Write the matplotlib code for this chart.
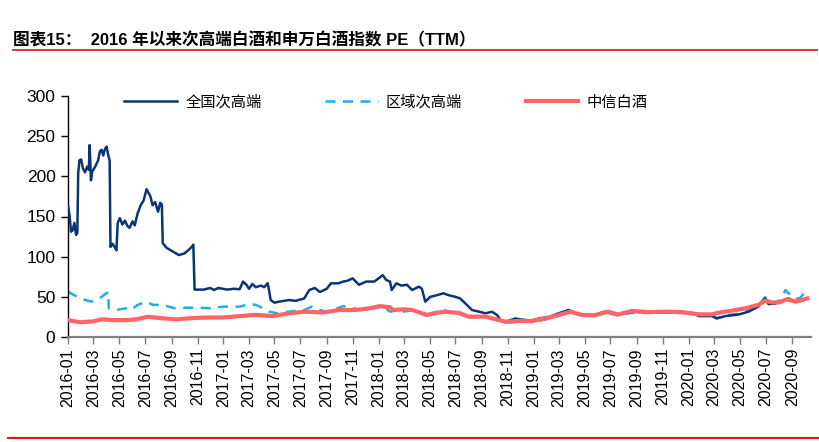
import matplotlib
matplotlib.use("Agg")
import matplotlib.pyplot as plt
import matplotlib.dates as mdates
import pandas as pd

plt.rcParams['font.family'] = ['Liberation Sans', 'Noto Sans CJK SC', 'DejaVu Sans']

title_text = "图表15：  2016 年以来次高端白酒和申万白酒指数 PE（TTM）"
series_names = ["全国次高端", "区域次高端", "中信白酒"]

national_dates = [
    "2016-01-01", "2016-01-05", "2016-01-08", "2016-01-12", "2016-01-16", "2016-01-20", "2016-01-23",
    "2016-01-25", "2016-01-28", "2016-02-01", "2016-02-05", "2016-02-10", "2016-02-15", "2016-02-19",
    "2016-02-21", "2016-02-24", "2016-02-27", "2016-03-05", "2016-03-12", "2016-03-16", "2016-03-20",
    "2016-03-24", "2016-03-28", "2016-04-01", "2016-04-04", "2016-04-08", "2016-04-10", "2016-04-15",
    "2016-04-20", "2016-04-24", "2016-04-27", "2016-05-02", "2016-05-08", "2016-05-14", "2016-05-20",
    "2016-05-25", "2016-06-01", "2016-06-06", "2016-06-13", "2016-06-20", "2016-06-27", "2016-07-04",
    "2016-07-08", "2016-07-13", "2016-07-18", "2016-07-24", "2016-07-31", "2016-08-05", "2016-08-09",
    "2016-08-11", "2016-08-20", "2016-09-05", "2016-09-18", "2016-10-01", "2016-10-10", "2016-10-18",
    "2016-10-22", "2016-10-25", "2016-11-15", "2016-12-01", "2016-12-10", "2016-12-20", "2017-01-10",
    "2017-01-25", "2017-02-08", "2017-02-16", "2017-02-24", "2017-03-02", "2017-03-10", "2017-03-18",
    "2017-03-30", "2017-04-07", "2017-04-15", "2017-04-19", "2017-04-22", "2017-05-01", "2017-05-12",
    "2017-06-04", "2017-06-20", "2017-07-10", "2017-07-22", "2017-08-04", "2017-08-16", "2017-09-01",
    "2017-09-11", "2017-09-28", "2017-10-10", "2017-10-20", "2017-11-01", "2017-11-16", "2017-12-03",
    "2017-12-22", "2018-01-11", "2018-01-19", "2018-01-28", "2018-02-01", "2018-02-12", "2018-02-24",
    "2018-03-09", "2018-03-21", "2018-04-06", "2018-04-13", "2018-04-21", "2018-05-03", "2018-05-18",
    "2018-06-03", "2018-06-15", "2018-07-01", "2018-07-12", "2018-07-24", "2018-08-09", "2018-08-25",
    "2018-09-10", "2018-09-25", "2018-10-07", "2018-10-15", "2018-10-27", "2018-11-19", "2018-12-13",
    "2018-12-28", "2019-01-13", "2019-02-07", "2019-03-01", "2019-03-24", "2019-04-12", "2019-05-02",
    "2019-05-24", "2019-06-18", "2019-06-26", "2019-07-18", "2019-08-20", "2019-09-28", "2019-11-06",
    "2019-12-15", "2020-01-09", "2020-01-25", "2020-02-25", "2020-03-07", "2020-03-27", "2020-04-28",
    "2020-05-21", "2020-06-13", "2020-06-29", "2020-07-07", "2020-07-22", "2020-08-16", "2020-08-23",
    "2020-09-09", "2020-09-24", "2020-10-06",
]
national_values = [
    164, 150, 131, 133, 142, 127, 130,
    204, 220, 221, 210, 205, 212, 208,
    239, 195, 206, 212, 220, 231, 233,
    226, 234, 237, 228, 220, 112, 116,
    112, 108, 142, 148, 140, 145, 138,
    136, 144, 139, 154, 164, 170, 184,
    180, 175, 164, 168, 156, 167, 165,
    117, 111, 106, 102, 104, 108, 112,
    115, 59, 59, 61, 58.5, 61, 59,
    60, 59.5, 69, 65, 60, 66, 62,
    64, 62, 67, 56, 46, 42.7, 44,
    46, 45, 48, 58.5, 61, 56, 60,
    66.8, 66.8, 69, 70, 73, 65, 69,
    69, 77, 71, 69, 58.5, 66.8, 64,
    65, 58.5, 62.7, 60, 44, 50, 52,
    54.4, 52, 50, 48, 42, 33.6, 31.5,
    29.5, 31.5, 27.4, 21, 19, 23, 21,
    20.5, 23, 25, 29.5, 33.6, 29.5, 27.4,
    27.4, 31.5, 30.3, 27.4, 31.5, 30.5, 30.5,
    30, 30, 26, 26, 23.2, 26, 28,
    31.5, 37.8, 48, 41, 41.5, 46, 48,
    44, 45, 48,
]

regional_dates = [
    "2016-01-01", "2016-01-29", "2016-02-25", "2016-03-15", "2016-03-31", "2016-04-05", "2016-04-06",
    "2016-04-27", "2016-05-16", "2016-05-28", "2016-06-13", "2016-07-03", "2016-07-19", "2016-08-11",
    "2016-09-08", "2016-10-05", "2016-11-06", "2016-11-30", "2017-01-01", "2017-02-09", "2017-03-02",
    "2017-03-18", "2017-04-03", "2017-04-19", "2017-05-07", "2017-06-04", "2017-07-10", "2017-07-28",
    "2017-08-16", "2017-09-01", "2017-09-16", "2017-10-10", "2017-11-01", "2017-11-25", "2017-12-25",
    "2018-01-11", "2018-01-28", "2018-02-12", "2018-02-27", "2018-03-21", "2018-04-25", "2018-05-15",
    "2018-06-07", "2018-07-09", "2018-08-01", "2018-09-10", "2018-10-12", "2018-10-27", "2018-11-28",
    "2018-12-28", "2019-01-29", "2019-03-01", "2019-03-28", "2019-04-25", "2019-05-24", "2019-06-26",
    "2019-07-18", "2019-08-20", "2019-09-28", "2019-11-06", "2019-12-15", "2020-01-25", "2020-02-25",
    "2020-03-07", "2020-03-27", "2020-04-28", "2020-05-21", "2020-06-13", "2020-06-29", "2020-07-07",
    "2020-07-22", "2020-08-05", "2020-08-16", "2020-08-23", "2020-08-30", "2020-09-09", "2020-09-20",
    "2020-09-28", "2020-10-06",
]
regional_values = [
    56.4, 48, 44, 48, 54.4, 56, 35.7,
    34, 35.7, 33.6, 40, 44, 40, 40,
    35.7, 36.5, 36.5, 35.7, 37.8, 37.8, 41,
    40, 36, 31.5, 29.5, 31.5, 33.6, 37.8,
    33.6, 31.5, 33.6, 38.5, 36, 33.6, 36,
    38, 31.5, 33, 31.5, 33, 27, 29,
    33, 29, 25, 24.5, 20, 18, 19,
    18.5, 22, 26, 31, 27, 27, 30,
    27, 30, 30, 31, 31, 29, 27,
    23, 27, 29, 33, 39, 49.5, 42,
    43, 46, 58.5, 54.4, 52, 47, 49,
    54, 56,
]

citic_dates = [
    "2016-01-01", "2016-01-29", "2016-02-29", "2016-03-22", "2016-04-16", "2016-05-16", "2016-06-10",
    "2016-07-07", "2016-08-04", "2016-09-12", "2016-10-21", "2016-11-30", "2017-01-01", "2017-02-09",
    "2017-03-18", "2017-04-26", "2017-06-04", "2017-07-13", "2017-08-22", "2017-10-01", "2017-11-09",
    "2017-12-10", "2018-01-04", "2018-01-28", "2018-02-04", "2018-03-05", "2018-03-21", "2018-04-25",
    "2018-05-15", "2018-06-07", "2018-07-09", "2018-08-01", "2018-09-10", "2018-10-12", "2018-10-27",
    "2018-11-28", "2018-12-28", "2019-01-29", "2019-03-01", "2019-03-28", "2019-04-25", "2019-05-24",
    "2019-06-26", "2019-07-18", "2019-08-20", "2019-09-28", "2019-11-06", "2019-12-15", "2020-01-25",
    "2020-02-25", "2020-03-10", "2020-04-12", "2020-05-13", "2020-06-13", "2020-06-29", "2020-07-15",
    "2020-08-01", "2020-08-19", "2020-09-09", "2020-10-06",
]
citic_values = [
    21, 18.3, 19.5, 22, 21, 21, 22,
    25.3, 23.6, 22, 23.6, 24.3, 24.3, 26,
    27.6, 26, 29.5, 31.5, 30.5, 33.6, 33.6,
    35.7, 38.5, 37, 33.6, 34.5, 33.6, 27.4,
    30, 31.5, 30, 25.3, 25.3, 21, 19,
    20, 20, 23, 27.4, 31.5, 27.4, 27,
    31.5, 28, 32.4, 31, 31.5, 31, 28.2,
    28.2, 30, 32.8, 35.7, 40, 45.2, 43,
    43, 47, 44, 48,
]

y_ticks = [0, 50, 100, 150, 200, 250, 300]

fig = plt.figure(figsize=(8.19, 4.42), dpi=100)
ax = fig.add_axes([68 / 819, 1 - 337 / 442, (811 - 68) / 819, (337 - 96) / 442])

ax.plot(pd.to_datetime(national_dates), national_values, color="#0B3577", lw=1.8,
        label=series_names[0], zorder=3)
ax.plot(pd.to_datetime(regional_dates), regional_values, color="#1AB0EE", lw=1.8,
        ls=(0, (4, 3)), label=series_names[1], zorder=2)
ax.plot(pd.to_datetime(citic_dates), citic_values, color="#FF6466", lw=3.0,
        label=series_names[2], zorder=4)

ax.set_ylim(0, 300)
ax.set_yticks(y_ticks)
ax.set_xlim(pd.Timestamp("2016-01-01"), pd.Timestamp("2020-10-15"))
ax.xaxis.set_major_locator(mdates.MonthLocator(bymonth=[1, 3, 5, 7, 9, 11]))
ax.xaxis.set_major_formatter(mdates.DateFormatter("%Y-%m"))
for lab in ax.get_xticklabels():
    lab.set_rotation(90)

ax.tick_params(axis='y', labelsize=12.5, length=5, width=1, direction='out', pad=4)
ax.tick_params(axis='x', labelsize=11.5, length=5, width=1, direction='out', pad=3,
               color="#808080")
for s in ["top", "right"]:
    ax.spines[s].set_visible(False)
ax.spines["left"].set_color("#000000")
ax.spines["left"].set_linewidth(1)
ax.spines["bottom"].set_color("#808080")
ax.spines["bottom"].set_linewidth(1.6)

leg = ax.legend(loc="upper left", bbox_to_anchor=(0.057, 1.067), ncol=3, frameon=False,
                handlelength=3.45, columnspacing=4.15, handletextpad=0.55,
                prop={"family": ["Noto Sans CJK SC"], "size": 11})

fig.text(13 / 819, 1 - 40 / 442, title_text, fontsize=12, fontweight="bold",
         family=["Liberation Sans", "Noto Sans CJK SC"], va="center", ha="left")
fig.add_artist(plt.Line2D([13 / 819, 817 / 819], [1 - 49.5 / 442, 1 - 49.5 / 442],
                          color="#CC2A1A", lw=1.3))
fig.add_artist(plt.Line2D([8 / 819, 819 / 819], [1 - 438 / 442, 1 - 438 / 442],
                          color="#E8180C", lw=1.5))

fig.savefig("out.png", dpi=100)
